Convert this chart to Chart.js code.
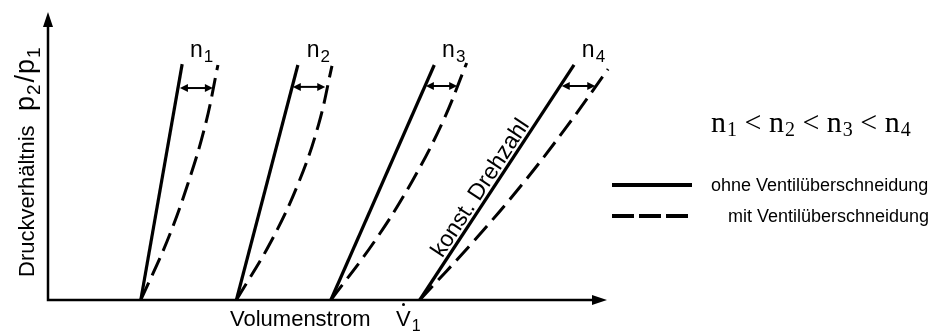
<!DOCTYPE html>
<html>
<head>
<meta charset="utf-8">
<title>Druckverhältnis über Volumenstrom</title>
<script src="https://cdn.jsdelivr.net/npm/chart.js@4.4.1/dist/chart.umd.min.js"></script>
<style>
    html, body { margin: 0; padding: 0; background: #fff; }
    #box { width: 931px; height: 331px; }
</style>
</head>
<body>
<div id="box"><canvas id="kennfeld" width="931" height="331"></canvas></div>
<script>
// Drehzahllinien, x = Volumenstrom, y = Druckverhältnis (relative Einheiten 0..100)
const speeds = ['1', '2', '3', '4'];

// ohne Ventilüberschneidung (durchgezogen)
const ohneN1 = [[16.6, 0], [24.0, 81.9]];
const ohneN2 = [[33.7, 0], [44.7, 81.6]];
const ohneN3 = [[50.6, 0], [69.1, 81.6]];
const ohneN4 = [[66.5, 0], [94.1, 81.6]];

// mit Ventilüberschneidung (gestrichelt)
const mitN1 = [[16.6, 0], [21.3, 20.4], [25.1, 40.8], [28.2, 61.2], [30.4, 81.6]];
const mitN2 = [[33.7, 0], [39.9, 20.3], [44.8, 40.6], [48.4, 60.9], [50.8, 81.3]];
const mitN3 = [[50.6, 0], [58.5, 20.6], [65.1, 41.1], [70.6, 61.8], [74.9, 82.3]];
const mitN4 = [[66.5, 0], [76.0, 20.1], [84.8, 40.1], [92.8, 60.2], [100.2, 80.2]];

// Doppelpfeile zwischen den Linien: [x von, x bis, y]
const shiftArrows = [[23.6, 29.5, 73.6], [43.8, 49.6, 74.0], [67.6, 73.2, 74.3], [91.9, 97.9, 74.3]];
// Beschriftung n1..n4: [x, y]
const speedLabels = [[25.4, 84.4], [46.3, 84.4], [70.5, 84.4], [95.5, 84.4]];

const legendTexts = ['ohne Ventilüberschneidung', 'mit Ventilüberschneidung'];

const SANS = '"Liberation Sans", Arial, Helvetica, sans-serif';
const SERIF = '"Liberation Serif", "Times New Roman", serif';

const toPts = arr => arr.map(p => ({ x: p[0], y: p[1] }));

function lineSet(data, dashed) {
    return {
        data: toPts(data),
        borderColor: '#000',
        borderWidth: dashed ? 3 : 3.2,
        borderDash: dashed ? [19, 8] : [],
        borderCapStyle: 'butt',
        tension: dashed ? 0.4 : 0,
        pointRadius: 0,
        showLine: true,
        fill: false,
        clip: false
    };
}

// Text mit tiefgestelltem Index
function subText(ctx, base, sub, x, y, size, subSize, drop, family) {
    ctx.font = size + 'px ' + family;
    ctx.fillText(base, x, y);
    const w = ctx.measureText(base).width;
    ctx.font = subSize + 'px ' + family;
    ctx.fillText(sub, x + w + 1, y + drop);
    return x + w + 1 + ctx.measureText(sub).width;
}

function arrowHead(ctx, x, y, dx, dy, len, half) {
    const l = Math.hypot(dx, dy);
    const ux = dx / l, uy = dy / l;
    ctx.beginPath();
    ctx.moveTo(x, y);
    ctx.lineTo(x - ux * len - uy * half, y - uy * len + ux * half);
    ctx.lineTo(x - ux * len + uy * half, y - uy * len - ux * half);
    ctx.closePath();
    ctx.fill();
}

const decor = {
    id: 'decor',
    afterDatasetsDraw(chart) {
        const ctx = chart.ctx;
        const xs = chart.scales.x, ys = chart.scales.y;
        const x0 = xs.getPixelForValue(0), y0 = ys.getPixelForValue(0);
        const xEnd = xs.getPixelForValue(100), yEnd = ys.getPixelForValue(100);
        ctx.save();
        ctx.fillStyle = '#000';
        ctx.strokeStyle = '#000';

        // Achsen mit Pfeilen
        ctx.lineWidth = 2.5;
        ctx.beginPath();
        ctx.moveTo(x0, yEnd + 10);
        ctx.lineTo(x0, y0);
        ctx.lineTo(xEnd - 10, y0);
        ctx.stroke();
        arrowHead(ctx, x0, yEnd, 0, -1, 15, 5);
        arrowHead(ctx, xEnd, y0, 1, 0, 15, 5);

        // Doppelpfeile
        ctx.lineWidth = 2;
        shiftArrows.forEach(a => {
            const xa = xs.getPixelForValue(a[0]), xb = xs.getPixelForValue(a[1]);
            const y = ys.getPixelForValue(a[2]);
            ctx.beginPath();
            ctx.moveTo(xa + 6, y);
            ctx.lineTo(xb - 6, y);
            ctx.stroke();
            arrowHead(ctx, xa, y, -1, 0, 8, 4);
            arrowHead(ctx, xb, y, 1, 0, 8, 4);
        });

        // n1..n4
        ctx.textBaseline = 'alphabetic';
        ctx.textAlign = 'left';
        speedLabels.forEach((p, i) => {
            subText(ctx, 'n', speeds[i], xs.getPixelForValue(p[0]), ys.getPixelForValue(p[1]),
                23, 17, 5, SANS);
        });

        // konst. Drehzahl entlang der Linie n4
        const a = ohneN4[0], b = ohneN4[ohneN4.length - 1];
        const ax = xs.getPixelForValue(a[0]), ay = ys.getPixelForValue(a[1]);
        const bx = xs.getPixelForValue(b[0]), by = ys.getPixelForValue(b[1]);
        const ang = Math.atan2(by - ay, bx - ax);
        ctx.save();
        ctx.translate(ax, ay);
        ctx.rotate(ang);
        ctx.font = '23px ' + SANS;
        ctx.fillText('konst. Drehzahl', 47, -4);
        ctx.restore();

        // y-Achsentitel
        ctx.save();
        ctx.translate(34, 277);
        ctx.rotate(-Math.PI / 2);
        ctx.font = '22px ' + SANS;
        ctx.fillText('Druckverhältnis', 0, 0);
        let px = subText(ctx, 'p', '2', 166, 0, 27, 19, 6, SANS) + 2;
        ctx.font = '27px ' + SANS;
        ctx.fillText('/', px, 0);
        px += ctx.measureText('/').width + 1;
        subText(ctx, 'p', '1', px, 0, 27, 19, 6, SANS);
        ctx.restore();

        // x-Achsentitel
        ctx.font = '22px ' + SANS;
        ctx.fillText('Volumenstrom', 230, 326);
        const vx = 396;
        subText(ctx, 'V', '1', vx, 326, 22, 16, 5, SANS);
        ctx.beginPath();
        ctx.arc(vx + 7.5, 304.5, 1.5, 0, Math.PI * 2);
        ctx.fill();

        // Legende
        let lx = 711;
        const sizes = [30, 20];
        for (let i = 0; i < speeds.length; i++) {
            lx = subText(ctx, 'n', speeds[i], lx, 132, sizes[0], sizes[1], 4, SERIF);
            if (i < speeds.length - 1) {
                ctx.font = sizes[0] + 'px ' + SERIF;
                ctx.fillText(' < ', lx, 132);
                lx += ctx.measureText(' < ').width;
            }
        }

        ctx.lineWidth = 4;
        ctx.beginPath();
        ctx.moveTo(612, 185);
        ctx.lineTo(692, 185);
        ctx.stroke();
        ctx.setLineDash([22, 5]);
        ctx.beginPath();
        ctx.moveTo(612, 216);
        ctx.lineTo(688, 216);
        ctx.stroke();
        ctx.setLineDash([]);

        ctx.font = '18px ' + SANS;
        ctx.fillText(legendTexts[0], 711, 191);
        ctx.fillText(legendTexts[1], 728, 222);
        ctx.restore();
    }
};

new Chart(document.getElementById('kennfeld'), {
    type: 'scatter',
    data: {
        datasets: [
            lineSet(ohneN1, false), lineSet(mitN1, true),
            lineSet(ohneN2, false), lineSet(mitN2, true),
            lineSet(ohneN3, false), lineSet(mitN3, true),
            lineSet(ohneN4, false), lineSet(mitN4, true)
        ]
    },
    options: {
        responsive: false,
        animation: false,
        layout: { padding: { left: 48, top: 12, right: 324, bottom: 31 } },
        plugins: { legend: { display: false }, tooltip: { enabled: false } },
        scales: {
            x: { type: 'linear', min: 0, max: 100, display: false },
            y: { type: 'linear', min: 0, max: 100, display: false }
        }
    },
    plugins: [decor]
});
</script>
</body>
</html>
